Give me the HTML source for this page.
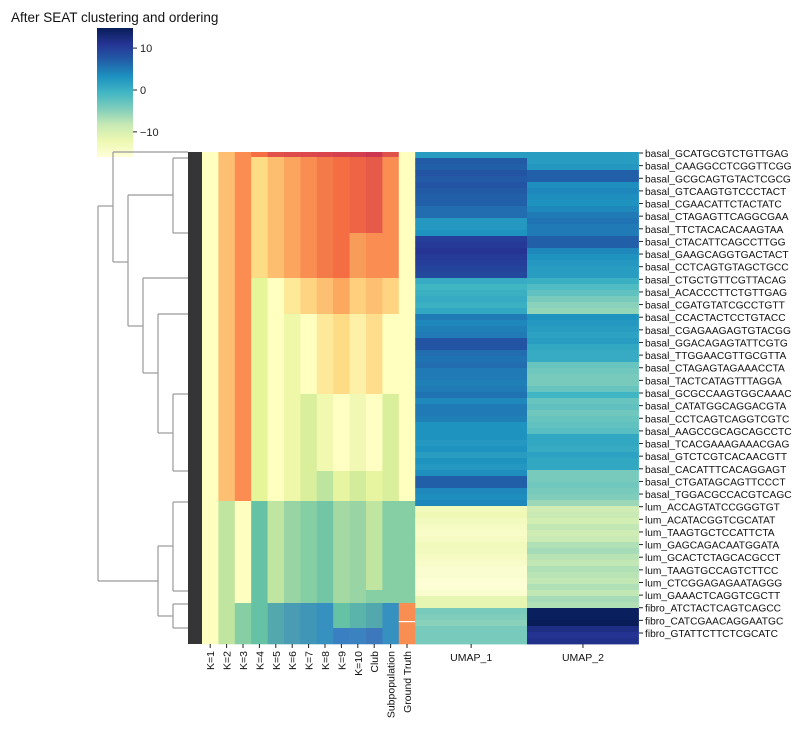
<!DOCTYPE html>
<html><head><meta charset="utf-8"><style>
body{margin:0;background:#fff;}
svg{display:block;font-family:"Liberation Sans","DejaVu Sans",sans-serif;}
</style></head><body>
<svg id="chart" width="805" height="734" viewBox="0 0 805 734" xmlns="http://www.w3.org/2000/svg">
<defs><linearGradient id="cbg" x1="0" y1="1" x2="0" y2="0">
<stop offset="0" stop-color="#ffffd9"/><stop offset="0.125" stop-color="#edf8b1"/><stop offset="0.25" stop-color="#c7e9b4"/><stop offset="0.375" stop-color="#7fcdbb"/><stop offset="0.5" stop-color="#41b6c4"/><stop offset="0.625" stop-color="#1d91c0"/><stop offset="0.75" stop-color="#225ea8"/><stop offset="0.875" stop-color="#253494"/><stop offset="1" stop-color="#081d58"/>
</linearGradient></defs>
<text x="11" y="22" font-size="13.5" fill="#111">After SEAT clustering and ordering</text>
<rect x="97" y="28" width="36" height="129" fill="url(#cbg)"/>
<g id="cbticks"></g>
<g id="dendro" stroke="#999" stroke-width="1.2" fill="none"></g>
<rect x="188" y="152" width="14" height="492" fill="#353535"/>
<g id="cat"></g>
<g id="umap"></g>
<g id="xlab"></g>
<g id="ylab"></g>
</svg>
<script>
const columns = ["K=1","K=2","K=3","K=4","K=5","K=6","K=7","K=8","K=9","K=10","Club","Subpopulation","Ground Truth"];
const clusterCellCounts = [5,76,45,36,80,77,30,89,13,25,16];
const clusterColors = [
["#ffffbf","#fdbf6f","#fb8d52","#f46d43","#e2504a","#de4b4b","#dc474c","#d9444d","#d5404f","#d23d50","#cc3750","#df5249","#ffffbf"],
["#ffffbf","#fdbf71","#fb8d52","#fedb85","#fdbe6f","#fca55e","#fa8e52","#f57a4a","#f46d43","#ee6445","#e55a48","#fa8e52","#ffffbf"],
["#ffffbf","#fdbf71","#fb8d52","#fedb85","#fdbe6f","#fca55e","#fa8e52","#f57a4a","#f46d43","#f89c5a","#fa8e52","#fa8e52","#ffffbf"],
["#ffffbf","#fdbf71","#fb8d52","#e6f598","#ffffbf","#fee999","#fed482","#fdbf71","#fca85e","#fecf7d","#fdbf71","#fed482","#ffffbf"],
["#ffffbf","#fdbf71","#fb8d52","#e6f598","#ffffbf","#eef8a8","#ffffbf","#fee99a","#fedb85","#fff0a8","#fede8c","#ffffbf","#ffffbf"],
["#ffffbf","#fdbf71","#fb8d52","#e6f598","#ffffbf","#eef8a8","#d9ef9c","#f1f9b0","#ffffc4","#f1f8b4","#ffffc4","#d9ef9c","#ffffbf"],
["#ffffbf","#fdbf71","#fb8d52","#e6f598","#ffffbf","#eef8a8","#d9ef9c","#bde5a0","#e8f5a0","#d2ec9c","#e8f5a0","#d9ef9c","#ffffbf"],
["#ffffbf","#bfe5a0","#ffffbf","#66c2a5","#bfe5a0","#99d5a4","#86cfa5","#72c6a5","#a4d9a4","#99d5a4","#bfe5a0","#86cfa5","#86cfa5"],
["#ffffbf","#bfe5a0","#ffffbf","#66c2a5","#bfe5a0","#99d5a4","#86cfa5","#72c6a5","#a4d9a4","#99d5a4","#86cfa5","#86cfa5","#86cfa5"],
["#ffffbf","#bfe5a0","#86cfa5","#66c2a5","#52a8ad","#4a9cb5","#3f96b7","#3690c0","#66c2a5","#5ab4ac","#52a8ad","#3690c0","#f98e52"],
["#ffffbf","#bfe5a0","#86cfa5","#66c2a5","#52a8ad","#4a9cb5","#3f96b7","#3690c0","#3a7fc2","#3a82c0","#3d78bd","#3690c0","#f98e52"]];
const umap1 = [2,7.5,7,8,7.5,8,7.5,7,7,6,6,2.5,2.5,3,10,10.5,11,10.5,10,9.5,9,0.5,-0.5,0,0.5,0,1,5,4,4.5,5,8,8,6,5.5,6,5,5,4.5,5,5.5,4,5,5,4.5,3,3,3,2.5,3,2,3,2.5,3.5,7,7,4,3.5,4,-13,-12.5,-13.5,-14,-14.5,-14,-13,-13.5,-14,-14.5,-15,-15,-15.5,-15.5,-15,-11.5,-11.5,-4,-4.5,-5,-4,-4,-4];
const umap2 = [2,2,2.5,7,7,3.5,4,3.5,3,4,5,5.5,5,5,7,7,4,3,2.5,2,2,0,-1.5,-2.5,-4,-5,-5.5,3,2.5,2,1.5,2,1,0.5,0.5,-3,-3.5,-4,-4,-3,-0.5,-3,-2.5,-3.5,-3,-2.5,-2,1,1,0.5,1.5,1,1,-4,-4,-3.5,-4,-4.5,-6,-9,-8.5,-9.5,-8,-9,-8.5,-7,-6.5,-7.5,-8,-7,-7.5,-8,-7,-8,-6.5,-7,14.5,14.5,14.8,12,11,11.5];
const cbTicks = [10,0,-10];
const rowLabels = ["basal_GCATGCGTCTGTTGAG","basal_CAAGGCCTCGGTTCGG","basal_GCGCAGTGTACTCGCG","basal_GTCAAGTGTCCCTACT","basal_CGAACATTCTACTATC","basal_CTAGAGTTCAGGCGAA","basal_TTCTACACACAAGTAA","basal_CTACATTCAGCCTTGG","basal_GAAGCAGGTGACTACT","basal_CCTCAGTGTAGCTGCC","basal_CTGCTGTTCGTTACAG","basal_ACACCCTTCTGTTGAG","basal_CGATGTATCGCCTGTT","basal_CCACTACTCCTGTACC","basal_CGAGAAGAGTGTACGG","basal_GGACAGAGTATTCGTG","basal_TTGGAACGTTGCGTTA","basal_CTAGAGTAGAAACCTA","basal_TACTCATAGTTTAGGA","basal_GCGCCAAGTGGCAAAC","basal_CATATGGCAGGACGTA","basal_CCTCAGTCAGGTCGTC","basal_AAGCCGCAGCAGCCTC","basal_TCACGAAAGAAACGAG","basal_GTCTCGTCACAACGTT","basal_CACATTTCACAGGAGT","basal_CTGATAGCAGTTCCCT","basal_TGGACGCCACGTCAGC","lum_ACCAGTATCCGGGTGT","lum_ACATACGGTCGCATAT","lum_TAAGTGCTCCATTCTA","lum_GAGCAGACAATGGATA","lum_GCACTCTAGCACGCCT","lum_TAAGTGCCAGTCTTCC","lum_CTCGGAGAGAATAGGG","lum_GAAACTCAGGTCGCTT","fibro_ATCTACTCAGTCAGCC","fibro_CATCGAACAGGAATGC","fibro_GTATTCTTCTCGCATC"];

const NS="http://www.w3.org/2000/svg";
const top0=152, H=492, catX0=202, catW=16.4, u1X=415.2, u2X=527, uW=111.9;
function mk(tag,attrs,parent){const e=document.createElementNS(NS,tag);for(const k in attrs)e.setAttribute(k,attrs[k]);parent.appendChild(e);return e;}
const stops=["#ffffd9","#edf8b1","#c7e9b4","#7fcdbb","#41b6c4","#1d91c0","#225ea8","#253494","#081d58"].map(h=>[1,3,5].map(i=>parseInt(h.substr(i,2),16)));
const vmin=-16,vmax=14.8;
function cmap(v){let t=(v-vmin)/(vmax-vmin);t=Math.max(0,Math.min(1,t))*8;const i=Math.min(7,Math.floor(t)),f=t-i;const c=stops[i].map((a,k)=>Math.round(a+(stops[i+1][k]-a)*f));return `rgb(${c[0]},${c[1]},${c[2]})`;}
function cbY(v){return 157-(v-vmin)/(vmax-vmin)*129;}

const cbg=document.getElementById('cbticks');
cbTicks.forEach(v=>{const y=cbY(v);
 const l=mk('line',{x1:133,x2:137,y1:y,y2:y,stroke:'#222','stroke-width':1},cbg);
 
 
 const t=mk('text',{x:140,y:y+4,'font-size':11,fill:'#222'},cbg);t.textContent=v<0?'\u2212'+Math.abs(v):String(v);
 
 
});

const cat=document.getElementById('cat');
const totalCells=clusterCellCounts.reduce((a,b)=>a+b,0);
let acc=0;
clusterCellCounts.forEach((n,b)=>{const y=top0+acc/totalCells*H,h=n/totalCells*H;acc+=n;
 clusterColors[b].forEach((c,j)=>{const r=mk('rect',{x:catX0+j*catW,y:y,width:catW+0.3,height:h+0.3,fill:c},cat);
  
  });
});
const sep=mk('rect',{x:catX0+12*catW,y:top0+(totalCells-16-25+18)/totalCells*H,width:catW,height:1.2,fill:'#fff'},cat);



const um=document.getElementById('umap');
const rh=H/umap1.length;
umap1.forEach((v,i)=>{const r=mk('rect',{x:u1X,y:top0+i*rh,width:uW,height:rh+0.4,fill:cmap(v)},um);
 
 });
umap2.forEach((v,i)=>{const r=mk('rect',{x:u2X,y:top0+i*rh,width:uW,height:rh+0.4,fill:cmap(v)},um);
 
 });

const xl=document.getElementById('xlab');
columns.forEach((c,j)=>{const x=catX0+(j+0.5)*catW;
 mk('line',{x1:x,x2:x,y1:644,y2:648,stroke:'#222','stroke-width':1},xl);
 const t=mk('text',{x:0,y:0,'font-size':10.5,fill:'#111','text-anchor':'end',transform:`translate(${x+4},651) rotate(-90)`},xl);
 t.textContent=c;
 
 });
[["UMAP_1",u1X+uW/2],["UMAP_2",u2X+uW/2]].forEach(([s,x])=>{
 mk('line',{x1:x,x2:x,y1:644,y2:648,stroke:'#222','stroke-width':1},xl);
 const t=mk('text',{x:x,y:661,'font-size':10.5,fill:'#111','text-anchor':'middle'},xl);t.textContent=s;
 
 });

const yl=document.getElementById('ylab');
const step=(633-153)/(rowLabels.length-1);
rowLabels.forEach((s,i)=>{const y=153+i*step;
 mk('line',{x1:639,x2:643,y1:y,y2:y,stroke:'#222','stroke-width':1},yl);
 const t=mk('text',{x:645,y:y+4,'font-size':10.2,fill:'#111'},yl);t.textContent=s;
 
 });

const dg=document.getElementById('dendro');
const segs=[[113,152,188,152],[113,152,113,262],[173,158,188,158],[173,158,173,233],[173,233,188,233],[128,195,173,195],[128,195,128,326],[113,262,128,262],[98,206,113,206],[98,206,98,581],
[143,278,188,278],[143,278,143,373],[128,326,143,326],[158,314,188,314],[158,314,158,433],[143,373,158,373],[173,394,188,394],[173,394,173,471],[173,471,188,471],[158,433,173,433],
[173,502,188,502],[173,502,173,591],[173,591,188,591],[158,546,173,546],[158,546,158,616],[98,581,158,581],[173,604,188,604],[173,604,173,628],[173,628,188,628],[158,616,173,616]];
segs.forEach(s=>{const l=mk('line',{x1:s[0],y1:s[1],x2:s[2],y2:s[3]},dg);
 
 });
</script>
</body></html>
